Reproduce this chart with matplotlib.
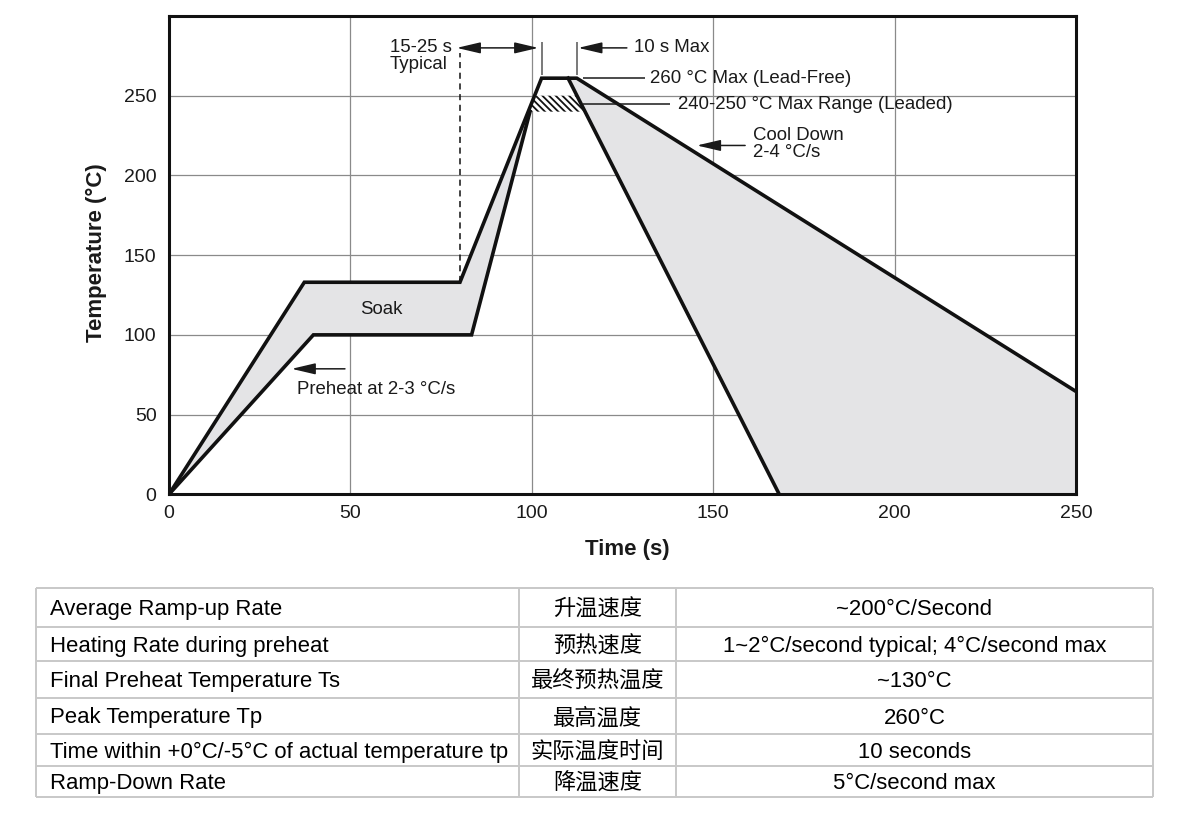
import matplotlib
matplotlib.use("Agg")
import matplotlib.pyplot as plt
from matplotlib.patches import Polygon, ArrowStyle
import numpy as np

plt.rcParams['font.family'] = ['Liberation Sans', 'DejaVu Sans']
plt.rcParams['hatch.linewidth'] = 1.3

#### profile data (time in s, temperature in degC)
upper_t = [0, 37.3, 80.2, 102.7, 112.4, 250]
upper_T = [0, 133, 133, 261, 261, 64.5]
lower_t = [0, 39.8, 83.4, 99.5]
lower_T = [0, 100, 100, 240]
cool_t = [110, 168.2]
cool_T = [261, 0]
leaded_T = [240, 250]

xticks = [0, 50, 100, 150, 200, 250]
yticks = [0, 50, 100, 150, 200, 250]

# table content
col_en = ["Average Ramp-up Rate", "Heating Rate during preheat",
          "Final Preheat Temperature Ts", "Peak Temperature Tp",
          "Time within +0°C/-5°C of actual temperature tp", "Ramp-Down Rate"]
col_zh = ["升温速度", "预热速度", "最终预热温度", "最高温度", "实际温度时间", "降温速度"]
col_val = ["~200°C/Second", "1~2°C/second typical; 4°C/second max", "~130°C",
           "260°C", "10 seconds", "5°C/second max"]

W, H = 1200, 823
fig = plt.figure(figsize=(W / 100, H / 100), dpi=100)
ax = fig.add_axes([169 / W, 1 - 494.3 / H, 907 / W, 478.3 / H])
ax.set_xlim(0, 250)
ax.set_ylim(0, 300)
ax.set_xticks(xticks)
ax.set_yticks(yticks)
ax.tick_params(length=0, labelsize=14, labelcolor='#1a1a1a')
ax.tick_params(axis='y', pad=9)
ax.tick_params(axis='x', pad=8)
for s in ax.spines.values():
    s.set_linewidth(2.2)
    s.set_color('#111111')
    s.set_zorder(10)
ax.grid(True, color='#8a8a8a', linewidth=0.9)
ax.set_axisbelow(True)

fill_col = '#e4e4e6'
line_col = '#111111'

# heating band (between upper and lower profile up to where they meet)
u_rise_t = [upper_t[2], upper_t[3]]
u_rise_T = [upper_T[2], upper_T[3]]
t_meet = np.interp(lower_T[-1], u_rise_T, u_rise_t)
heat_pts = list(zip(upper_t[:3], upper_T[:3])) + [(t_meet, lower_T[-1])] \
    + list(zip(lower_t[::-1], lower_T[::-1]))
ax.add_patch(Polygon(heat_pts, closed=True, facecolor=fill_col, edgecolor='none', zorder=2))

# cooling band
cool_pts = [(cool_t[0], cool_T[0]), (upper_t[4], upper_T[4]), (upper_t[5], upper_T[5]),
            (upper_t[5], 0), (cool_t[1], cool_T[1])]
ax.add_patch(Polygon(cool_pts, closed=True, facecolor=fill_col, edgecolor='none', zorder=2))

# leaded range hatch
cool_rev_T = cool_T[::-1]
cool_rev_t = cool_t[::-1]
h_pts = []
for T in leaded_T:
    h_pts.append((np.interp(T, u_rise_T, u_rise_t), T))
for T in leaded_T[::-1]:
    h_pts.append((np.interp(T, cool_rev_T, cool_rev_t), T))
ax.add_patch(Polygon(h_pts, closed=True, facecolor='white', edgecolor='#111111',
                     linewidth=0, hatch='\\' * 5, zorder=3))

# profile lines
ax.plot(upper_t, upper_T, color=line_col, lw=2.6, solid_joinstyle='miter', zorder=5)
ax.plot(lower_t, lower_T, color=line_col, lw=2.6, solid_joinstyle='miter', zorder=5)
ax.plot(cool_t, cool_T, color=line_col, lw=2.6, zorder=5)

# markers above the peak
ax.vlines([upper_t[3], upper_t[4]], 263, 284, color='#555555', lw=1.1, zorder=4)
ax.vlines([upper_t[2]], 133, 277, color=line_col, lw=1.1, linestyles=(0, (4, 3)), zorder=4)

txt_col = '#1a1a1a'
head = ArrowStyle('-|>', head_length=1.45, head_width=0.34)
head2 = ArrowStyle('<|-|>', head_length=1.45, head_width=0.34)
aprops = dict(arrowstyle=head, color=txt_col, lw=1.1, shrinkA=0, shrinkB=0, mutation_scale=10)
aprops2 = dict(arrowstyle=head2, color=txt_col, lw=1.1, shrinkA=0, shrinkB=0, mutation_scale=10)

ax.annotate('', xy=(79.3, 280), xytext=(101.8, 280), arrowprops=aprops2, zorder=6)
ax.annotate('', xy=(112.8, 280), xytext=(126.2, 280), arrowprops=aprops, zorder=6)
ax.annotate('', xy=(33.8, 78.7), xytext=(48.5, 78.7), arrowprops=aprops, zorder=6)
ax.annotate('', xy=(145.5, 218.8), xytext=(158.8, 218.8), arrowprops=aprops, zorder=6)

# leader lines
ax.hlines(261, 114.2, 131.2, color=txt_col, lw=1.1, zorder=6)
ax.hlines(244.5, 114.2, 138.1, color=txt_col, lw=1.1, zorder=6)

fs = 13.4
ax.text(60.9, 280.2, '15-25 s', fontsize=fs, color=txt_col, ha='left', va='center')
ax.text(60.9, 269.7, 'Typical', fontsize=fs, color=txt_col, ha='left', va='center')
ax.text(128.3, 280, '10 s Max', fontsize=fs, color=txt_col, ha='left', va='center')
ax.text(132.6, 261, '260 °C Max (Lead-Free)', fontsize=fs, color=txt_col, ha='left', va='center')
ax.text(140.4, 244.8, '240-250 °C Max Range (Leaded)', fontsize=fs, color=txt_col,
        ha='left', va='center')
ax.text(161, 225.3, 'Cool Down', fontsize=fs, color=txt_col, ha='left', va='center')
ax.text(161, 214.6, '2-4 °C/s', fontsize=fs, color=txt_col, ha='left', va='center')
ax.text(58.6, 115.8, 'Soak', fontsize=fs, color=txt_col, ha='center', va='center', zorder=6)
ax.text(35.2, 65.6, 'Preheat at 2-3 °C/s', fontsize=fs, color=txt_col, ha='left', va='center')

fig.text(96.5 / W, 1 - 252.7 / H, 'Temperature (°C)', rotation=90, fontsize=16,
         fontweight='bold', color=txt_col, ha='center', va='center')
fig.text(627.5 / W, 1 - 550 / H, 'Time (s)', fontsize=16, fontweight='bold',
         color=txt_col, ha='center', va='center')

#### table below the chart (pixel coordinates)
tab = fig.add_axes([0, 0, 1, 1])
tab.set_xlim(0, W)
tab.set_ylim(H, 0)
tab.axis('off')
tab.patch.set_alpha(0)

row_y = [587.7, 627.3, 661, 697.7, 734.3, 766, 796.7]
col_x = [35.7, 519, 675.7, 1153]
grid_c = '#c8c8c8'
tab.hlines(row_y, col_x[0], col_x[-1], color=grid_c, lw=1.4)
tab.vlines(col_x, row_y[0], row_y[-1], color=grid_c, lw=1.4)

tfs = 15.9
for i in range(len(col_en)):
    yc = (row_y[i] + row_y[i + 1]) / 2 + 2
    tab.text(50, yc, col_en[i], fontsize=tfs, color='black', ha='left', va='center')
    tab.text((col_x[1] + col_x[2]) / 2, yc, col_zh[i], fontsize=16, color='black',
             ha='center', va='center', family=['Noto Sans CJK SC', 'DejaVu Sans'])
    tab.text((col_x[2] + col_x[3]) / 2, yc, col_val[i], fontsize=tfs, color='black',
             ha='center', va='center')

fig.savefig('out.png', dpi=100)
